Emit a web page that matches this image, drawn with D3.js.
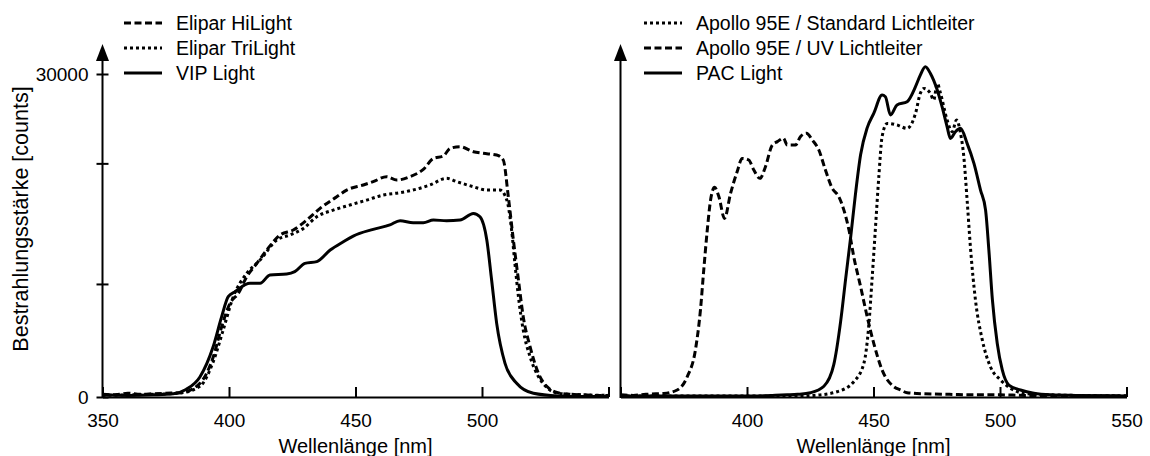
<!DOCTYPE html>
<html><head><meta charset="utf-8">
<script src="https://cdn.jsdelivr.net/npm/d3@7/dist/d3.min.js"></script>
<style>
body{margin:0;background:#fff;}
text{font-family:"Liberation Sans",Arial,sans-serif;fill:#000;}
</style></head>
<body><svg id="c" width="1150" height="456"></svg>
<script>
// ---- data ----
const xTicksLeft = [350, 400, 450, 500, 550];
const xLabelsLeft = ["350", "400", "450", "500", ""];
const xTicksRight = [350, 400, 450, 500, 550];
const xLabelsRight = ["", "400", "450", "500", "550"];
const yTickValues = [0, 10500, 21700, 30000];
const yTickLabels = ["0", "", "", "30000"];

const legendLeft = ["Elipar HiLight", "Elipar TriLight", "VIP Light"];
const legendRight = ["Apollo 95E / Standard Lichtleiter", "Apollo 95E / UV Lichtleiter", "PAC Light"];

// Elipar HiLight (dashed)
const hiWl = [350,355,360,365,370,375,381,388.5,393.8,397.1,400.4,403.7,407,411,414.9,420.2,425.4,430.7,436,442.6,446.5,453.1,457,462.3,466.3,471.5,476.8,480.8,484.7,487.4,491.3,496.6,500.5,505.8,508.4,510.4,512.4,514.4,516.3,519,522.3,526,530,535,540,545,550];
const hiVal = [250,200,350,250,300,350,400,1270,3740,6530,8700,9630,11170,12410,13650,15050,15510,16430,17520,18600,19220,19690,20000,20460,20150,20460,21140,22160,22380,23090,23250,22780,22630,22470,22010,18600,14580,10870,7460,4670,2200,900,400,250,200,150,150];
// Elipar TriLight (dotted)
const triWl = [350,360,370,380,388.5,393.8,397.7,401.7,407,412.3,418.9,424.1,429.4,434.7,441.2,447.8,454.4,461,467.6,472.8,479.4,486,490,496.6,501.9,507.1,509.8,511.7,513,514.4,516.3,519,522.3,526,530,540,550];
const triVal = [150,200,250,350,1000,3300,6220,9320,11480,12720,14580,15050,15660,16740,17360,17830,18290,18760,18980,19220,19690,20310,20000,19530,19220,19220,18290,15510,12410,9320,6220,3740,1890,800,350,200,150];
// VIP Light (solid)
const vipWl = [350,360,370,378,383,388.5,393.7,397.1,399.7,402.4,408.3,412.3,416.2,422.8,426,430,434.7,440,445.2,449.1,457,463.6,467.6,472.8,476.8,480.8,486,491.3,496.6,499.2,501.9,503.8,505.8,509.1,513.7,520.3,530,540,550];
const vipVal = [200,150,200,300,700,1860,4640,7460,9320,9780,10560,10560,11330,11420,11640,12410,12570,13650,14420,14950,15570,15980,16380,16190,16190,16430,16380,16430,17050,16740,14580,10870,6840,3130,1270,340,100,50,50];

// Apollo 95E / Standard Lichtleiter (dotted)
const stdWl = [350,400,420,426.4,435.6,442.2,446.2,448.1,449.5,450.8,452.1,453.4,455.4,459.3,463.3,466.6,468.5,469.9,472.5,473.8,475.2,476.5,479.1,481.1,482.8,484.4,485.7,487,488.4,490.3,493,496.2,500.2,504.2,509.5,520,550];
const stdVal = [100,100,100,150,490,1420,3130,6530,11170,15810,20460,24180,25410,25260,24950,26340,28200,28660,28200,27580,29130,28200,25720,24640,25720,24490,22310,18290,13650,9010,5300,2820,1580,800,340,200,100];
// Apollo 95E / UV Lichtleiter (dashed)
const uvWl = [350,355,360,364,367.1,372.4,376.4,379.6,381.6,382.9,384.3,385.6,387.2,388.9,391.1,393.5,396.1,398.1,400.7,402.7,405.1,407.3,410,412,414.4,415.9,419.2,421.1,423.5,425.8,428.4,431,433.7,436.3,438.3,440.3,442.2,444.9,447.5,450.1,453.4,458,460.7,463.3,470,480,490,500,510,520,530,540,550];
const uvVal = [200,150,250,300,320,650,1890,4360,8080,11790,15510,18290,19470,18600,16590,18910,20920,22160,22010,21080,20310,21390,23410,23720,24030,23410,23410,24180,24490,23870,22940,21080,19380,18600,17360,15510,13030,10250,7460,4990,2510,960,650,400,300,250,200,200,150,150,100,100,100];
// PAC Light (solid)
const pacWl = [350,380,400,410,415.9,420,425.1,430.4,434.3,437,439,441,442.9,444.9,447.5,450.1,453.4,454.7,456.7,459.3,463.3,466.6,468.5,470.5,472.5,475.2,477.1,479.1,480.4,482.4,484.4,487,489.7,492.3,494.3,495.6,497,498.9,500.9,503.5,508.1,513.4,520,530,550];
const pacVal = [100,100,100,150,200,250,400,1000,3000,7000,11000,14890,18910,22500,25000,26340,28040,27890,26190,27120,27430,28820,29900,30670,30050,28510,26960,25100,24020,24640,24950,23560,21700,19220,17360,13650,9010,4990,2510,1110,650,340,200,150,100];

// ---- styles ----
const STYLE = {
  solid: null,
  dashed: "7,3.5",
  dotted: "3,3"
};

const svg = d3.select("#c");
const y = d3.scaleLinear().domain([0, 30000]).range([397, 74]);

function panel(x0, x1, xTicks, xLabels, showYTicks, series, legend, legX) {
  const x = d3.scaleLinear().domain([350, 550]).range([x0, x1]);
  const g = svg.append("g");

  // curves
  const line = d3.line().x(d => x(d[0])).y(d => y(d[1])).curve(d3.curveMonotoneX);
  series.forEach(s => {
    g.append("path")
      .datum(s.wl.map((w, i) => [w, s.val[i]]))
      .attr("d", line)
      .attr("fill", "none")
      .attr("stroke", "#000")
      .attr("stroke-width", 3)
      .attr("stroke-linejoin", "round")
      .attr("stroke-dasharray", STYLE[s.style]);
  });

  // x axis
  const xa = g.append("g").attr("transform", `translate(0,${y(0)})`)
    .call(d3.axisBottom(x).tickValues(xTicks)
      .tickFormat((d, i) => xLabels[i])
      .tickSizeInner(-10).tickSizeOuter(0).tickPadding(17));
  xa.select(".domain").attr("stroke-width", 2);
  xa.selectAll(".tick line").attr("stroke-width", 2);
  xa.selectAll("text").attr("font-size", 19).attr("font-family", "Liberation Sans, Arial, sans-serif");

  // y axis
  const ya = g.append("g").attr("transform", `translate(${x0},0)`)
    .call(d3.axisLeft(y).tickValues(yTickValues)
      .tickFormat((d, i) => showYTicks ? yTickLabels[i] : "")
      .tickSizeInner(6).tickSizeOuter(0).tickPadding(8));
  ya.select(".domain").remove();
  ya.selectAll(".tick line").attr("x1", showYTicks ? 6 : 0).attr("x2", showYTicks ? -6 : 0).attr("stroke-width", 2);
  ya.selectAll("text").attr("font-size", 19).attr("font-family", "Liberation Sans, Arial, sans-serif");
  g.append("line").attr("x1", x0).attr("x2", x0).attr("y1", y(0) + 1).attr("y2", 56)
    .attr("stroke", "#000").attr("stroke-width", 2);
  g.append("path").attr("d", `M${x0},44 L${x0 - 6.5},61 L${x0 + 6.5},61 Z`).attr("fill", "#000");

  // x title
  g.append("text").attr("x", x(450)).attr("y", 453).attr("text-anchor", "middle")
    .attr("font-size", 20).text("Wellenlänge [nm]");

  // legend
  legend.forEach((name, i) => {
    const ly = 23 + i * 25;
    const st = legend.styles[i];
    g.append("line").attr("x1", legX).attr("x2", legX + 38).attr("y1", ly).attr("y2", ly)
      .attr("stroke", "#000").attr("stroke-width", 3).attr("stroke-dasharray", STYLE[st]);
    g.append("text").attr("x", legX + 52).attr("y", ly).attr("dy", "0.35em")
      .attr("font-size", 19.5).text(name);
  });
}

legendLeft.styles = ["dashed", "dotted", "solid"];
legendRight.styles = ["dotted", "dashed", "solid"];

panel(102.5, 608.5, xTicksLeft, xLabelsLeft, true, [
  {wl: hiWl, val: hiVal, style: "dashed"},
  {wl: triWl, val: triVal, style: "dotted"},
  {wl: vipWl, val: vipVal, style: "solid"}
], legendLeft, 124);

panel(620.5, 1126.5, xTicksRight, xLabelsRight, false, [
  {wl: stdWl, val: stdVal, style: "dotted"},
  {wl: uvWl, val: uvVal, style: "dashed"},
  {wl: pacWl, val: pacVal, style: "solid"}
], legendRight, 644);

// y title
svg.append("text").attr("transform", `translate(28,219) rotate(-90)`)
  .attr("text-anchor", "middle").attr("font-size", 21.5).text("Bestrahlungsstärke [counts]");
</script></body></html>
